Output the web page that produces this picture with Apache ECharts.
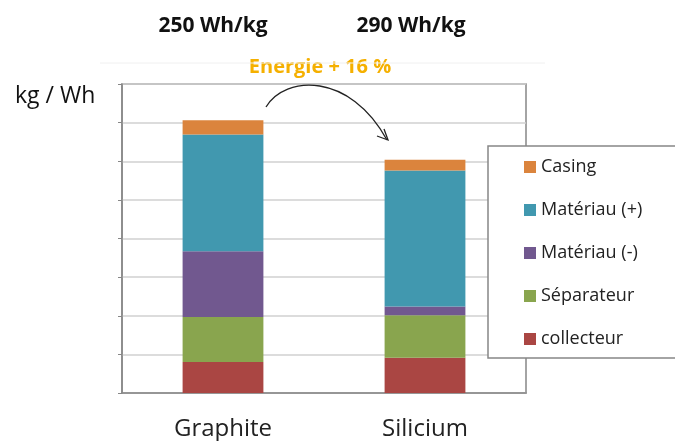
<!DOCTYPE html>
<html>
<head>
<meta charset="utf-8">
<script src="https://cdn.jsdelivr.net/npm/echarts@6/dist/echarts.min.js"></script>
<style>
  html, body { margin: 0; padding: 0; background: #fff; }
  #chart { width: 675px; height: 441px; }
</style>
</head>
<body>
<div id="chart"></div>
<script>
// donnees (unites de grille)
var categories = ['Graphite', 'Silicium'];
var collecteur = [0.80, 0.91];
var separateur = [1.17, 1.10];
var materiauMoins = [1.70, 0.23];
var materiauPlus = [3.02, 3.52];
var casing = [0.37, 0.28];
var energies = ['250 Wh/kg', '290 Wh/kg'];

var FONT = 'Open Sans';
var chart = echarts.init(document.getElementById('chart'));

function serie(name, data, color) {
    return {
        name: name,
        type: 'bar',
        stack: 'total',
        barWidth: '40%',
        itemStyle: { color: color },
        emphasis: { disabled: true },
        data: data
    };
}

var option = {
    animation: false,
    textStyle: { fontFamily: FONT },
    grid: {
        left: 122, right: 149, top: 84, bottom: 46,
        show: true, borderColor: '#878787', borderWidth: 1.5,
        backgroundColor: '#fff'
    },
    xAxis: {
        type: 'category',
        data: categories,
        axisLine: { lineStyle: { color: '#878787', width: 1.5 } },
        axisTick: { inside: true, length: 8, lineStyle: { color: '#555' } },
        axisLabel: { fontFamily: FONT, fontSize: 24, color: '#222', margin: 24 }
    },
    yAxis: {
        type: 'value',
        min: 0, max: 8, interval: 1,
        axisLine: { show: true, lineStyle: { color: '#878787', width: 1.5 } },
        axisTick: { show: true, length: 4, lineStyle: { color: '#878787' } },
        axisLabel: { show: false },
        splitLine: { lineStyle: { color: '#d0d0d0', width: 1.5 } }
    },
    legend: {
        orient: 'vertical',
        left: 524, top: 157, padding: 0,
        z: 20,
        icon: 'rect',
        itemWidth: 12, itemHeight: 12,
        itemGap: 23,
        data: ['Casing', 'Matériau (+)', 'Matériau (-)', 'Séparateur', 'collecteur'],
        textStyle: { fontFamily: FONT, fontSize: 18, color: '#222', lineHeight: 20 }
    },
    series: [
        serie('collecteur', collecteur, '#AA4643'),
        serie('Séparateur', separateur, '#89A54E'),
        serie('Matériau (-)', materiauMoins, '#71588F'),
        serie('Matériau (+)', materiauPlus, '#4198AF'),
        serie('Casing', casing, '#DB843D')
    ],
    graphic: [
        { type: 'line', z: 1, shape: { x1: 100, y1: 63, x2: 545, y2: 63 },
          style: { stroke: '#f0f0f0', lineWidth: 1 } },
        { type: 'rect', z: 10, shape: { x: 488, y: 146, width: 200, height: 212 },
          style: { fill: '#fff', stroke: '#878787', lineWidth: 1.5 } },
        { type: 'text', style: {
            text: energies[0], x: 213, y: 26, align: 'center', verticalAlign: 'middle',
            font: 'bold 21px "Open Sans"', fill: '#111' } },
        { type: 'text', style: {
            text: energies[1], x: 411, y: 26, align: 'center', verticalAlign: 'middle',
            font: 'bold 21px "Open Sans"', fill: '#111' } },
        { type: 'text', style: {
            text: 'Energie + 16 %', x: 320, y: 67, align: 'center', verticalAlign: 'middle',
            font: 'bold 20px "Open Sans"', fill: '#F5B000' } },
        { type: 'text', style: {
            text: 'kg / Wh', x: 15, y: 96, align: 'left', verticalAlign: 'middle',
            font: '23px "Open Sans"', fill: '#111' } },
        { type: 'bezierCurve', z: 12,
          shape: { x1: 266, y1: 107, cpx1: 285, cpy1: 75, cpx2: 350, cpy2: 72, x2: 387, y2: 140 },
          style: { fill: 'none', stroke: '#222', lineWidth: 1.3 } },
        { type: 'polyline', z: 12, shape: { points: [[377, 136], [388, 140], [384, 129]] },
          style: { fill: 'none', stroke: '#222', lineWidth: 1.3 } }
    ]
};

chart.setOption(option);
</script>
</body>
</html>
